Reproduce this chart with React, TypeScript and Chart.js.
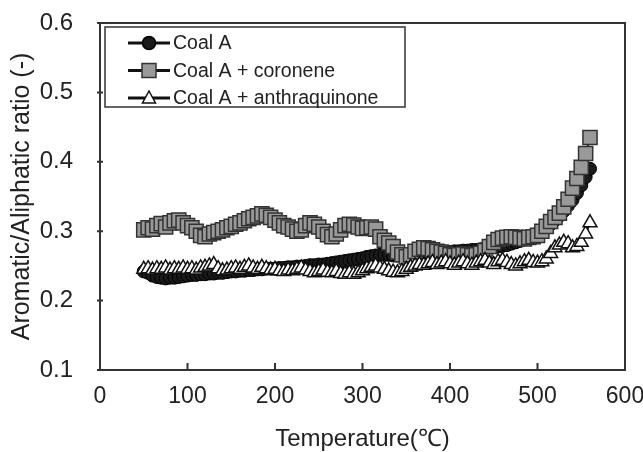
import React, { useEffect, useRef } from "react";
import { Chart, registerables } from "chart.js";

Chart.register(...registerables);

const temperatures = [
  50, 55, 60, 65, 70, 75, 80, 85, 90, 95,
  100, 105, 110, 115, 120, 125, 130, 135, 140, 145,
  150, 155, 160, 165, 170, 175, 180, 185, 190, 195,
  200, 205, 210, 215, 220, 225, 230, 235, 240, 245,
  250, 255, 260, 265, 270, 275, 280, 285, 290, 295,
  300, 305, 310, 315, 320, 325, 330, 335, 340, 345,
  350, 355, 360, 365, 370, 375, 380, 385, 390, 395,
  400, 405, 410, 415, 420, 425, 430, 435, 440, 445,
  450, 455, 460, 465, 470, 475, 480, 485, 490, 495,
  500, 505, 510, 515, 520, 525, 530, 535, 540, 545,
  550, 555, 560,
];

const coalA = [
  0.242, 0.240, 0.236, 0.234, 0.233, 0.232, 0.233, 0.233, 0.234, 0.235,
  0.236, 0.237, 0.237, 0.238, 0.238, 0.239, 0.239, 0.240, 0.240, 0.241,
  0.242, 0.242, 0.243, 0.243, 0.244, 0.244, 0.245, 0.245, 0.246, 0.246,
  0.246, 0.247, 0.247, 0.248, 0.248, 0.249, 0.249, 0.250, 0.251, 0.251,
  0.252, 0.252, 0.253, 0.254, 0.255, 0.256, 0.257, 0.258, 0.259, 0.260,
  0.261, 0.263, 0.264, 0.265, 0.266, 0.266, 0.266, 0.265, 0.265, 0.264,
  0.264, 0.265, 0.266, 0.266, 0.267, 0.268, 0.268, 0.269, 0.269, 0.270,
  0.270, 0.271, 0.271, 0.272, 0.272, 0.273, 0.273, 0.274, 0.275, 0.276,
  0.277, 0.278, 0.279, 0.280, 0.282, 0.284, 0.286, 0.288, 0.291, 0.294,
  0.297, 0.301, 0.305, 0.310, 0.316, 0.322, 0.329, 0.337, 0.345, 0.355,
  0.366, 0.378, 0.390,
];

const coalACoronene = [
  0.302, 0.305, 0.303, 0.308, 0.311, 0.306, 0.312, 0.315, 0.316, 0.312,
  0.308, 0.305, 0.300, 0.294, 0.292, 0.296, 0.298, 0.300, 0.302, 0.305,
  0.307, 0.310, 0.312, 0.315, 0.318, 0.320, 0.322, 0.325, 0.323, 0.320,
  0.316, 0.312, 0.308, 0.306, 0.303, 0.300, 0.302, 0.308, 0.312, 0.310,
  0.306, 0.300, 0.295, 0.292, 0.296, 0.302, 0.308, 0.310, 0.309, 0.306,
  0.304, 0.305, 0.306, 0.303, 0.292, 0.287, 0.283, 0.278, 0.270, 0.266,
  0.263, 0.266, 0.271, 0.274, 0.276, 0.275, 0.273, 0.271, 0.270, 0.268,
  0.266, 0.265, 0.266, 0.267, 0.266, 0.265, 0.266, 0.268, 0.272, 0.278,
  0.284, 0.288, 0.290, 0.291, 0.292, 0.291, 0.290, 0.289, 0.291, 0.292,
  0.294, 0.300, 0.307, 0.314, 0.320, 0.326, 0.335, 0.346, 0.362, 0.376,
  0.392, 0.412, 0.435,
];

const coalAAnthraquinone = [
  0.245, 0.246, 0.244, 0.246, 0.245, 0.247, 0.244, 0.246, 0.245, 0.247,
  0.245, 0.246, 0.244, 0.247, 0.248, 0.250, 0.252, 0.246, 0.243, 0.244,
  0.246, 0.247, 0.245, 0.248, 0.250, 0.247, 0.245, 0.248, 0.246, 0.244,
  0.245, 0.243, 0.242, 0.244, 0.243, 0.245, 0.247, 0.244, 0.242, 0.240,
  0.242, 0.244, 0.241, 0.240, 0.242, 0.239, 0.238, 0.240, 0.238, 0.240,
  0.243, 0.246, 0.248, 0.250, 0.247, 0.245, 0.243, 0.241, 0.240, 0.242,
  0.245, 0.248, 0.250, 0.252, 0.251, 0.253, 0.255, 0.252, 0.254, 0.256,
  0.253, 0.251, 0.254, 0.256, 0.253, 0.251, 0.254, 0.256, 0.258, 0.254,
  0.252, 0.256, 0.258, 0.255, 0.252, 0.250, 0.253, 0.256, 0.258, 0.255,
  0.254, 0.256, 0.260, 0.268, 0.276, 0.280, 0.284, 0.282, 0.276, 0.278,
  0.284, 0.296, 0.312,
];

const seriesNames = ["Coal A", "Coal A + coronene", "Coal A + anthraquinone"];
const xTickValues = [0, 100, 200, 300, 400, 500, 600];
const yTickValues = [0.1, 0.2, 0.3, 0.4, 0.5, 0.6];
const xTitle = "Temperature(\u2103)";
const yTitle = "Aromatic/Aliphatic ratio (-)";

const FONT = "'Liberation Sans', Arial, sans-serif";
const AXIS_COLOR = "#333333";
const TEXT_COLOR = "#222222";

function drawMarker(ctx: CanvasRenderingContext2D, style: string, x: number, y: number) {
  ctx.save();
  ctx.lineWidth = 1.5;
  if (style === "circle") {
    ctx.fillStyle = "#1a1a1a";
    ctx.strokeStyle = "#000";
    ctx.beginPath();
    ctx.arc(x, y, 6.5, 0, Math.PI * 2);
    ctx.fill();
    ctx.stroke();
  } else if (style === "rect") {
    ctx.fillStyle = "#999999";
    ctx.strokeStyle = "#333";
    ctx.beginPath();
    ctx.rect(x - 7, y - 7, 14, 14);
    ctx.fill();
    ctx.stroke();
  } else {
    ctx.fillStyle = "#ffffff";
    ctx.strokeStyle = "#111";
    ctx.beginPath();
    ctx.moveTo(x, y - 7);
    ctx.lineTo(x + 6.5, y + 5);
    ctx.lineTo(x - 6.5, y + 5);
    ctx.closePath();
    ctx.fill();
    ctx.stroke();
  }
  ctx.restore();
}

const framePlugin = {
  id: "frameTicks",
  afterDatasetsDraw(chart: any) {
    const { ctx, chartArea, scales } = chart;
    const { left, right, top, bottom } = chartArea;
    ctx.save();
    ctx.strokeStyle = AXIS_COLOR;
    ctx.lineWidth = 2;
    ctx.strokeRect(left, top, right - left, bottom - top);
    ctx.beginPath();
    for (const v of xTickValues) {
      const px = scales.x.getPixelForValue(v);
      ctx.moveTo(px, bottom);
      ctx.lineTo(px, bottom - 7);
    }
    for (const v of yTickValues) {
      const py = scales.y.getPixelForValue(v);
      ctx.moveTo(left - 3, py);
      ctx.lineTo(left + 3, py);
    }
    ctx.stroke();
    ctx.restore();
  },
};

const legendPlugin = {
  id: "customLegend",
  afterDraw(chart: any) {
    const { ctx } = chart;
    const boxX = 105;
    const boxY = 27;
    const boxW = 300;
    const boxH = 80;
    ctx.save();
    ctx.fillStyle = "#ffffff";
    ctx.fillRect(boxX, boxY, boxW, boxH);
    ctx.strokeStyle = AXIS_COLOR;
    ctx.lineWidth = 1.5;
    ctx.strokeRect(boxX, boxY, boxW, boxH);
    const styles = ["circle", "rect", "triangle"];
    seriesNames.forEach((name, i) => {
      const cy = boxY + 16 + i * 27.5;
      ctx.strokeStyle = "#111";
      ctx.lineWidth = 3;
      ctx.beginPath();
      ctx.moveTo(128, cy);
      ctx.lineTo(170, cy);
      ctx.stroke();
      drawMarker(ctx, styles[i], 149, cy);
      ctx.fillStyle = TEXT_COLOR;
      ctx.font = `19.5px ${FONT}`;
      ctx.textBaseline = "middle";
      ctx.textAlign = "left";
      ctx.fillText(name, 173, cy + 1);
    });
    ctx.restore();
  },
};

export default function App() {
  const canvasRef = useRef<HTMLCanvasElement | null>(null);

  useEffect(() => {
    const canvas = canvasRef.current;
    if (!canvas) return;
    const toPoints = (vals: number[]) => temperatures.map((t, i) => ({ x: t, y: vals[i] }));
    const chart = new Chart(canvas, {
      type: "scatter",
      data: {
        datasets: [
          {
            label: seriesNames[0],
            data: toPoints(coalA),
            showLine: true,
            borderColor: "#111",
            borderWidth: 2,
            pointStyle: "circle",
            pointRadius: 6.5,
            pointBackgroundColor: "#1a1a1a",
            pointBorderColor: "#000",
            pointBorderWidth: 1,
            order: 3,
          },
          {
            label: seriesNames[1],
            data: toPoints(coalACoronene),
            showLine: true,
            borderColor: "#222",
            borderWidth: 2,
            pointStyle: "rect",
            pointRadius: 10,
            pointBackgroundColor: "#999999",
            pointBorderColor: "#333",
            pointBorderWidth: 1.5,
            order: 2,
          },
          {
            label: seriesNames[2],
            data: toPoints(coalAAnthraquinone),
            showLine: true,
            borderColor: "#111",
            borderWidth: 2,
            pointStyle: "triangle",
            pointRadius: 8,
            pointBackgroundColor: "#ffffff",
            pointBorderColor: "#111",
            pointBorderWidth: 1.5,
            order: 1,
          },
        ],
      },
      options: {
        animation: false,
        responsive: false,
        events: [],
        layout: { padding: { top: 23, right: 18, left: 0, bottom: 0 } },
        plugins: {
          legend: { display: false },
          tooltip: { enabled: false },
        },
        scales: {
          x: {
            type: "linear",
            min: 0,
            max: 600,
            afterFit: (scale: any) => {
              scale.height = 82;
              scale.paddingLeft = 0;
              scale.paddingRight = 0;
            },
            afterBuildTicks: (scale: any) => {
              scale.ticks = xTickValues.map((v) => ({ value: v }));
            },
            ticks: {
              autoSkip: false,
              maxRotation: 0,
              padding: 13,
              color: TEXT_COLOR,
              font: { family: FONT, size: 23 },
              callback: (v: any) => String(v),
            },
            grid: { display: true, drawOnChartArea: false, drawTicks: false },
            border: { display: false },
            title: {
              display: true,
              text: xTitle,
              color: TEXT_COLOR,
              font: { family: FONT, size: 24 },
              padding: { top: 0, bottom: -2 },
            },
          },
          y: {
            type: "linear",
            min: 0.1,
            max: 0.6,
            afterFit: (scale: any) => {
              scale.width = 100;
              scale.paddingTop = 0;
              scale.paddingBottom = 0;
            },
            afterBuildTicks: (scale: any) => {
              scale.ticks = yTickValues.map((v) => ({ value: v }));
            },
            ticks: {
              autoSkip: false,
              padding: 27,
              color: TEXT_COLOR,
              font: { family: FONT, size: 24 },
              callback: (v: any) => Number(v).toFixed(1),
            },
            grid: { display: true, drawOnChartArea: false, drawTicks: false },
            border: { display: false },
            title: {
              display: true,
              text: yTitle,
              color: TEXT_COLOR,
              font: { family: FONT, size: 25 },
              padding: { top: 7, bottom: 0 },
            },
          },
        },
      },
      plugins: [framePlugin, legendPlugin],
    });
    return () => chart.destroy();
  }, []);

  return (
    <div style={{ position: "fixed", left: 0, top: 0, width: 643, height: 452, background: "#fff" }}>
      <canvas ref={canvasRef} width={643} height={452} style={{ display: "block" }} />
    </div>
  );
}
